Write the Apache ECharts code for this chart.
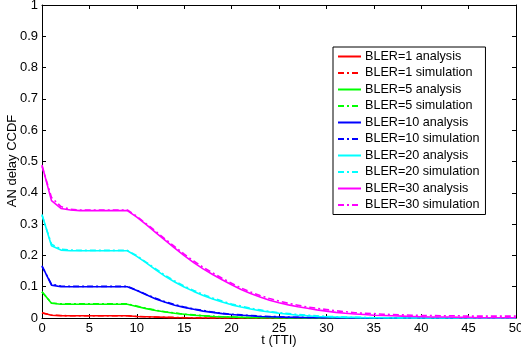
<!DOCTYPE html>
<html>
<head>
<meta charset="utf-8">
<script src="https://cdn.jsdelivr.net/npm/echarts@6/dist/echarts.min.js"></script>
<style>
  html, body { margin: 0; padding: 0; background: #fff; }
  #chart { width: 521px; height: 351px; }
</style>
</head>
<body>
<div id="chart"></div>
<script>
// time axis, TTI
const tValues = [0,1,2,3,4,5,6,7,8,9,10,11,12,13,14,15,16,17,18,19,20,21,22,23,24,25,26,27,28,29,30,31,32,33,34,35,36,37,38,39,40,41,42,43,44,45,46,47,48,49,50]

const bler1Analysis = [0.017,0.009,0.007,0.007,0.007,0.007,0.007,0.007,0.007,0.007,0.005,0.004,0.003,0.002,0.001,0.001,0,0,0,0,0,0,0,0,0,0,0,0,0,0,0,0,0,0,0,0,0,0,0,0,0,0,0,0,0,0,0,0,0,0,0]
const bler1Sim = [0.016,0.009,0.008,0.007,0.007,0.007,0.007,0.007,0.007,0.007,0.005,0.004,0.003,0.002,0.002,0.001,0.001,0,0,0,0,0,0,0,0,0,0,0,0,0,0,0,0,0,0,0,0,0,0,0,0,0,0,0,0,0,0,0,0,0,0]
const bler5Analysis = [0.084,0.047,0.044,0.044,0.044,0.044,0.044,0.044,0.044,0.044,0.037,0.030,0.024,0.019,0.015,0.012,0.009,0.007,0.005,0.004,0.003,0.002,0.001,0.001,0.001,0,0,0,0,0,0,0,0,0,0,0,0,0,0,0,0,0,0,0,0,0,0,0,0,0,0]
const bler5Sim = [0.083,0.048,0.045,0.045,0.045,0.045,0.045,0.045,0.045,0.045,0.038,0.031,0.025,0.020,0.016,0.012,0.010,0.007,0.006,0.004,0.003,0.002,0.002,0.001,0.001,0.001,0,0,0,0,0,0,0,0,0,0,0,0,0,0,0,0,0,0,0,0,0,0,0,0,0]
const bler10Analysis = [0.167,0.105,0.100,0.100,0.100,0.100,0.100,0.100,0.100,0.100,0.088,0.074,0.061,0.050,0.041,0.034,0.028,0.022,0.018,0.014,0.011,0.009,0.007,0.005,0.004,0.003,0.002,0.002,0.001,0.001,0.001,0,0,0,0,0,0,0,0,0,0,0,0,0,0,0,0,0,0,0,0]
const bler10Sim = [0.165,0.108,0.102,0.101,0.101,0.101,0.101,0.101,0.101,0.101,0.089,0.075,0.063,0.052,0.043,0.035,0.029,0.024,0.019,0.015,0.012,0.010,0.008,0.006,0.005,0.004,0.003,0.002,0.002,0.001,0.001,0.001,0,0,0,0,0,0,0,0,0,0,0,0,0,0,0,0,0,0,0]
const bler20Analysis = [0.331,0.231,0.217,0.215,0.215,0.215,0.215,0.215,0.215,0.215,0.197,0.176,0.154,0.133,0.115,0.099,0.085,0.072,0.061,0.051,0.042,0.035,0.029,0.023,0.019,0.015,0.012,0.009,0.007,0.005,0.004,0.003,0.002,0.002,0.001,0.001,0.001,0,0,0,0,0,0,0,0,0,0,0,0,0,0]
const bler20Sim = [0.328,0.236,0.220,0.217,0.216,0.216,0.216,0.216,0.216,0.216,0.199,0.178,0.157,0.136,0.118,0.102,0.088,0.075,0.064,0.054,0.045,0.038,0.031,0.026,0.021,0.017,0.014,0.011,0.009,0.007,0.005,0.004,0.003,0.002,0.002,0.001,0.001,0.001,0,0,0,0,0,0,0,0,0,0,0,0,0]
const bler30Analysis = [0.489,0.375,0.350,0.345,0.343,0.343,0.343,0.343,0.343,0.343,0.322,0.298,0.273,0.248,0.223,0.199,0.177,0.157,0.139,0.122,0.106,0.091,0.078,0.067,0.057,0.049,0.042,0.036,0.031,0.026,0.022,0.018,0.015,0.013,0.011,0.009,0.008,0.007,0.006,0.005,0.004,0.003,0.003,0.003,0.002,0.002,0.001,0.001,0.001,0.001,0.001]
const bler30Sim = [0.485,0.385,0.356,0.347,0.345,0.345,0.345,0.345,0.345,0.345,0.325,0.301,0.277,0.252,0.228,0.204,0.182,0.162,0.144,0.127,0.111,0.096,0.083,0.072,0.062,0.054,0.047,0.041,0.035,0.031,0.027,0.023,0.020,0.017,0.015,0.014,0.012,0.011,0.010,0.009,0.008,0.008,0.007,0.007,0.007,0.006,0.006,0.006,0.006,0.006,0.006]

const xTicks = [0,5,10,15,20,25,30,35,40,45,50]
const yTicks = [0,0.1,0.2,0.3,0.4,0.5,0.6,0.7,0.8,0.9,1]

const seriesDefs = [
  { name: "BLER=1 analysis", values: bler1Analysis, color: "#ff0000", sim: false },
  { name: "BLER=1 simulation", values: bler1Sim, color: "#ff0000", sim: true },
  { name: "BLER=5 analysis", values: bler5Analysis, color: "#00ff00", sim: false },
  { name: "BLER=5 simulation", values: bler5Sim, color: "#00ff00", sim: true },
  { name: "BLER=10 analysis", values: bler10Analysis, color: "#0000ff", sim: false },
  { name: "BLER=10 simulation", values: bler10Sim, color: "#0000ff", sim: true },
  { name: "BLER=20 analysis", values: bler20Analysis, color: "#00ffff", sim: false },
  { name: "BLER=20 simulation", values: bler20Sim, color: "#00ffff", sim: true },
  { name: "BLER=30 analysis", values: bler30Analysis, color: "#ff00ff", sim: false },
  { name: "BLER=30 simulation", values: bler30Sim, color: "#ff00ff", sim: true },
]

const font = "'Liberation Sans', Arial, sans-serif"
const chart = echarts.init(document.getElementById("chart"), null, { renderer: "canvas" })

const axisBase = {
  type: "value",
  axisLine: { show: true, onZero: false, lineStyle: { color: "#000", width: 1 } },
  axisTick: { show: true, inside: true, length: 4, lineStyle: { color: "#000" } },
  splitLine: { show: false },
}

chart.setOption({
  animation: false,
  backgroundColor: "#fff",
  textStyle: { fontFamily: font },
  grid: { left: 42, right: 5, top: 5, bottom: 33, containLabel: false, outerBoundsMode: "none" },
  // axis titles placed by hand; the axis name got pushed away from the labels
  graphic: [
    {
      type: "text",
      x: 12,
      y: 161,
      rotation: Math.PI / 2,
      style: {
        text: "AN delay CCDF",
        font: "13px 'Liberation Sans', Arial, sans-serif",
        fill: "#000",
        align: "center",
        verticalAlign: "middle",
      },
    },
    {
      type: "text",
      x: 279,
      y: 340,
      style: {
        text: "t (TTI)",
        font: "13px 'Liberation Sans', Arial, sans-serif",
        fill: "#000",
        align: "center",
        verticalAlign: "middle",
      },
    },
  ],
  legend: {
    orient: "vertical",
    left: 333,
    top: 47,
    padding: [3, 6, 3, 4],
    itemWidth: 23,
    itemHeight: 12,
    itemGap: 3.5,
    itemStyle: { opacity: 0 },
    backgroundColor: "#fff",
    borderColor: "#000",
    borderWidth: 1,
    borderRadius: 0,
    textStyle: { fontFamily: font, fontSize: 12.6, color: "#000", padding: [0, 0, 0, -1] },
    data: seriesDefs.map((d) => d.name),
  },
  xAxis: [
    {
      ...axisBase,
      min: 0,
      max: 50,
      interval: 5,
      axisLabel: {
        margin: 4,
        fontFamily: font,
        fontSize: 13,
        color: "#000",
        formatter: (v) => (xTicks.includes(v) ? String(v) : ""),
      },
    },
    {
      ...axisBase,
      position: "top",
      min: 0,
      max: 50,
      interval: 5,
      axisLabel: { show: false },
    },
  ],
  yAxis: [
    {
      ...axisBase,
      min: 0,
      max: 1,
      interval: 0.1,
      axisLabel: {
        margin: 4,
        fontFamily: font,
        fontSize: 13,
        color: "#000",
        formatter: (v) => {
          const t = yTicks.find((y) => Math.abs(y - v) < 1e-9)
          return t === undefined ? "" : String(t)
        },
      },
    },
    {
      ...axisBase,
      position: "right",
      min: 0,
      max: 1,
      interval: 0.1,
      axisLabel: { show: false },
    },
  ],
  series: seriesDefs.map((d) => ({
    name: d.name,
    type: "line",
    xAxisIndex: 0,
    yAxisIndex: 0,
    symbol: "none",
    color: d.color,
    lineStyle: {
      color: d.color,
      width: 1.6,
      type: d.sim ? [6, 3, 2, 3] : "solid",
    },
    data: tValues.map((t, i) => [t, d.values[i]]),
  })),
})
</script>
</body>
</html>
